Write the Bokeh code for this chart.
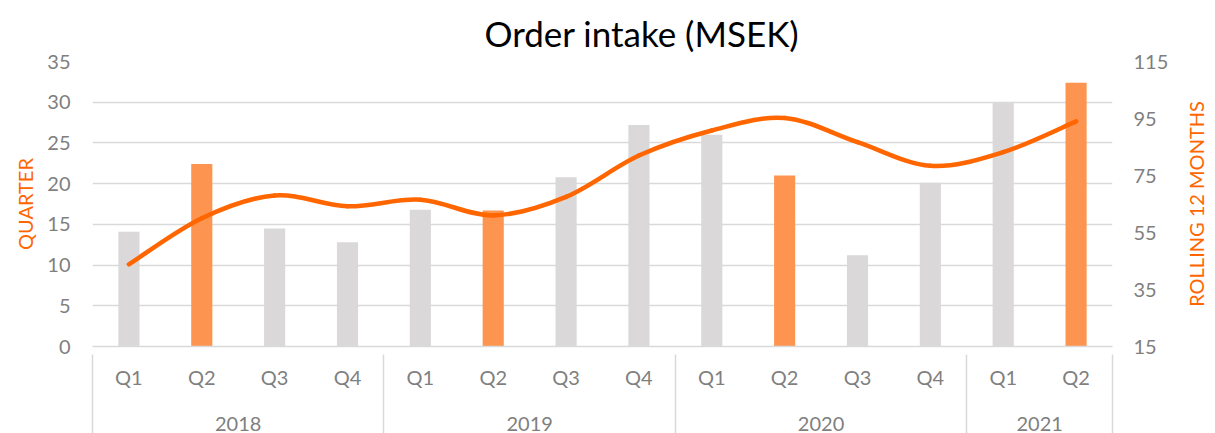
from bokeh.plotting import figure
from bokeh.layouts import row
from bokeh.models import Range1d, LinearAxis, FixedTicker
from bokeh.embed import file_html
from bokeh.resources import INLINE

# ---- data ----
quarter_labels = ["Q1", "Q2", "Q3", "Q4", "Q1", "Q2", "Q3", "Q4", "Q1", "Q2", "Q3", "Q4", "Q1", "Q2"]
period_years = ["2018"] * 4 + ["2019"] * 4 + ["2020"] * 4 + ["2021"] * 2
quarter_intake = [14.1, 22.4, 14.5, 12.8, 16.8, 16.7, 20.8, 27.2, 26.0, 21.0, 11.2, 20.1, 30.0, 32.4]
rolling_12m = [43.8, 60.0, 68.0, 64.2, 66.5, 61.0, 67.5, 82.0, 90.8, 95.2, 86.7, 78.4, 83.2, 94.0]
left_ticks = [0, 5, 10, 15, 20, 25, 30, 35]
right_ticks = [15, 35, 55, 75, 95, 115]

ORANGE = "#ff6600"
BAR_ORANGE = "#fd944f"
BAR_GRAY = "#dad8d8"
GRID = "#d9d9d9"
TICK_TXT = "#7f7f7f"
FONT = "Lato"
FS = "20px"
H = 433
TOP = 61
BOTTOM = 87

n = len(quarter_labels)
xs = [i + 0.5 for i in range(n)]
bar_colors = [BAR_ORANGE if q == "Q2" else BAR_GRAY for q in quarter_labels]

# year group boundaries and centres
bounds = [0]
for i in range(1, n):
    if period_years[i] != period_years[i - 1]:
        bounds.append(i)
bounds.append(n)
year_names = []
year_centers = []
for a, b in zip(bounds[:-1], bounds[1:]):
    year_names.append(period_years[a])
    c = (a + b) / 2
    year_centers.append(int(c) if c == int(c) else c)

p = figure(width=1180, height=H, x_range=Range1d(0, n), y_range=Range1d(left_ticks[0], left_ticks[-1]),
           output_backend="svg", toolbar_location=None,
           min_border_left=92, min_border_right=68, min_border_top=TOP, min_border_bottom=BOTTOM)
p.outline_line_color = None
p.background_fill_color = "white"
p.border_fill_color = "white"
p.extra_y_ranges = {"roll": Range1d(right_ticks[0], right_ticks[-1])}

# title
p.title.text = "Order intake (MSEK)"
p.title.text_font = FONT
p.title.text_font_size = "35px"
p.title.text_font_style = "normal"
p.title.text_color = "#000000"
p.title.text_line_height = 0.85
p.title.align = "left"
p.title.offset = 392
p.title.standoff = 16

# grid
p.xgrid.grid_line_color = None
p.ygrid.ticker = FixedTicker(ticks=left_ticks)
p.ygrid.grid_line_color = GRID
p.ygrid.grid_line_width = 1.5

# left axis
ya = p.yaxis[0]
ya.ticker = FixedTicker(ticks=left_ticks)
ya.axis_line_color = None
ya.major_tick_line_color = None
ya.minor_tick_line_color = None
ya.major_label_standoff = 16
ya.major_label_text_font = FONT
ya.major_label_text_font_size = FS
ya.major_label_text_color = TICK_TXT
ya.axis_label = "QUARTER"
ya.axis_label_text_font = FONT
ya.axis_label_text_font_size = FS
ya.axis_label_text_font_style = "normal"
ya.axis_label_text_color = ORANGE
ya.axis_label_standoff = 7

# right axis (ticks only; its title sits in the side strip)
ra = LinearAxis(y_range_name="roll", ticker=FixedTicker(ticks=right_ticks))
ra.axis_line_color = None
ra.major_tick_line_color = None
ra.minor_tick_line_color = None
ra.major_label_standoff = 15
ra.major_label_text_font = FONT
ra.major_label_text_font_size = FS
ra.major_label_text_color = TICK_TXT
p.add_layout(ra, "right")

# bottom axis: quarter labels
xa = p.xaxis[0]
xa.ticker = FixedTicker(ticks=xs, minor_ticks=[])
xa.major_label_overrides = {x: q for x, q in zip(xs, quarter_labels)}
xa.axis_line_color = GRID
xa.axis_line_width = 1.5
xa.major_tick_line_color = None
xa.minor_tick_line_color = None
xa.major_label_standoff = 12
xa.major_label_text_font = FONT
xa.major_label_text_font_size = FS
xa.major_label_text_color = TICK_TXT

# second bottom axis: years
ba = LinearAxis(ticker=FixedTicker(ticks=year_centers, minor_ticks=[]))
ba.major_label_overrides = {c: y for c, y in zip(year_centers, year_names)}
ba.axis_line_color = None
ba.major_tick_line_color = None
ba.minor_tick_line_color = None
ba.major_label_standoff = 19
ba.major_label_text_font = FONT
ba.major_label_text_font_size = FS
ba.major_label_text_color = TICK_TXT
p.add_layout(ba, "below")

# outermost axis: group separators drawn as inward ticks
sa = LinearAxis(ticker=FixedTicker(ticks=bounds, minor_ticks=[]))
sa.major_label_overrides = {b: "" for b in bounds}
sa.major_label_text_font_size = "0px"
sa.major_label_standoff = 0
sa.axis_line_color = None
sa.major_tick_line_color = GRID
sa.major_tick_line_width = 1.5
sa.major_tick_out = 0
sa.major_tick_in = 79
sa.minor_tick_line_color = None
p.add_layout(sa, "below")

# bars
p.vbar(x=xs, top=quarter_intake, width=0.29, color=bar_colors, line_color=None)

# smoothed rolling line (bezier segments, control points from neighbours)
x0s, y0s, x1s, y1s, cx0s, cy0s, cx1s, cy1s = [], [], [], [], [], [], [], []
for i in range(n - 1):
    pa = (xs[i - 1], rolling_12m[i - 1]) if i > 0 else (xs[i], rolling_12m[i])
    pb = (xs[i], rolling_12m[i])
    pc = (xs[i + 1], rolling_12m[i + 1])
    pd = (xs[i + 2], rolling_12m[i + 2]) if i + 2 < n else pc
    x0s.append(pb[0]); y0s.append(pb[1])
    x1s.append(pc[0]); y1s.append(pc[1])
    cx0s.append(pb[0] + (pc[0] - pa[0]) / 6); cy0s.append(pb[1] + (pc[1] - pa[1]) / 6)
    cx1s.append(pc[0] - (pd[0] - pb[0]) / 6); cy1s.append(pc[1] - (pd[1] - pb[1]) / 6)
p.bezier(x0=x0s, y0=y0s, x1=x1s, y1=y1s, cx0=cx0s, cy0=cy0s, cx1=cx1s, cy1=cy1s,
         line_color=ORANGE, line_width=4.5, line_cap="round", y_range_name="roll")

# thin side strip carrying the right-hand axis title (reads bottom-to-top)
s = figure(width=27, height=H, x_range=Range1d(0, 1), y_range=Range1d(right_ticks[0], right_ticks[-1]),
           output_backend="svg", toolbar_location=None, x_axis_location=None,
           min_border_left=25, min_border_right=0, min_border_top=TOP, min_border_bottom=BOTTOM)
s.outline_line_color = None
s.border_fill_color = "white"
s.grid.grid_line_color = None
sy = s.yaxis[0]
sy.ticker = FixedTicker(ticks=[])
sy.axis_line_color = None
sy.major_tick_line_color = None
sy.minor_tick_line_color = None
sy.major_label_text_font_size = "0px"
sy.major_label_standoff = 0
sy.axis_label = "ROLLING 12 MONTHS"
sy.axis_label_text_font = FONT
sy.axis_label_text_font_size = FS
sy.axis_label_text_font_style = "normal"
sy.axis_label_text_color = ORANGE
sy.axis_label_standoff = 0

layout = row(p, s)
open("out.html", "w").write(file_html(layout, INLINE))
